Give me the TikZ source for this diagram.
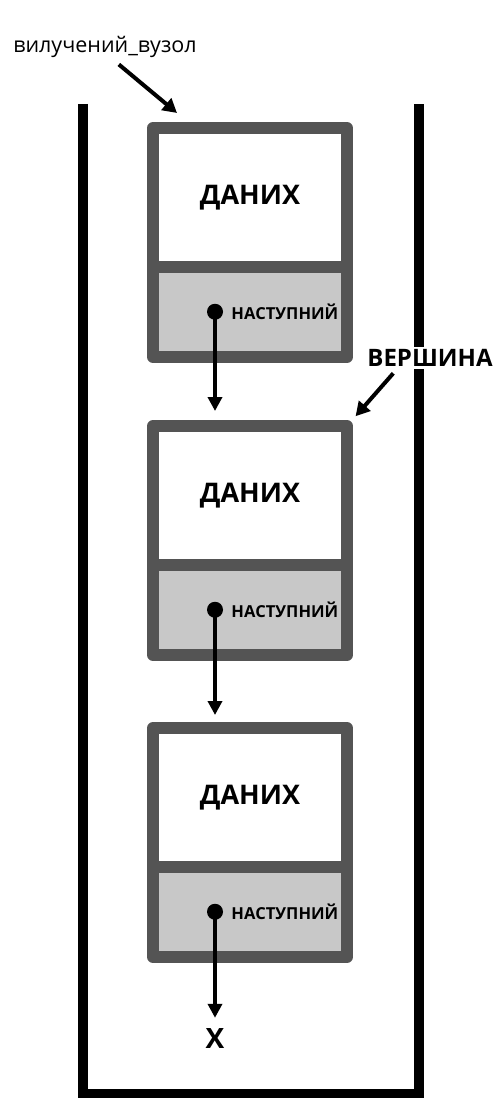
\documentclass[tikz,border=0pt]{standalone}
\usepackage{fontspec}
\setmainfont{Open Sans}
\usetikzlibrary{positioning,arrows.meta}
\definecolor{framegray}{RGB}{84,84,84}
\definecolor{nextgray}{RGB}{200,200,200}

\begin{document}
\begin{tikzpicture}[x=1pt,y=1pt,yscale=-1,xscale=1,
  databox/.style={draw=framegray,fill=white,line width=12pt,line join=round,minimum width=194pt,minimum height=138.5pt,inner sep=0pt,outer sep=0pt,font=\bfseries\fontsize{27}{30}\selectfont},
  nextbox/.style={draw=framegray,fill=nextgray,line width=12pt,line join=round,minimum width=194pt,minimum height=90.5pt,inner sep=0pt,outer sep=0pt,anchor=north},
  ptrdot/.style={circle,fill=black,minimum size=16pt,inner sep=0pt},
  ptrtext/.style={font=\bfseries\fontsize{16.5}{18}\selectfont,inner sep=0pt},
  ptrarrow/.style={line width=3.5pt,-{Triangle[length=14pt,width=14pt]}},
  lblarrow/.style={line width=4pt,-{Triangle[length=14pt,width=15pt]}}]
\path (0,0) rectangle (503,1105);

%Shape: Stack walls
\draw [line width=9.5pt]  (83,104) -- (83,1093.5) -- (419,1093.5) -- (419,104) ;

%Shape: Node 1
\node [databox] (data1) at (250,197.25) {ДАНИХ};
\node [nextbox] (next1) at (data1.south) {};
\node [ptrdot] (dot1) at ([xshift=-35pt]next1.center) {};
\node [ptrtext,right=8pt of dot1] (ptr1) {НАСТУПНИЙ};
%Shape: Node 2
\node [databox] (data2) at (250,495.25) {ДАНИХ};
\node [nextbox] (next2) at (data2.south) {};
\node [ptrdot] (dot2) at ([xshift=-35pt]next2.center) {};
\node [ptrtext,right=8pt of dot2] (ptr2) {НАСТУПНИЙ};
%Shape: Node 3
\node [databox] (data3) at (250,797.25) {ДАНИХ};
\node [nextbox] (next3) at (data3.south) {};
\node [ptrdot] (dot3) at ([xshift=-35pt]next3.center) {};
\node [ptrtext,right=8pt of dot3] (ptr3) {НАСТУПНИЙ};
\node [font=\bfseries\fontsize{28}{30}\selectfont,inner sep=0pt] (nullx) at (215,1038) {X};

%Straight Lines: next pointers
\draw [ptrarrow,shorten >=15pt]   (dot1.center) -- (dot1.center |- data2.north) ;
\draw [ptrarrow,shorten >=13pt]   (dot2.center) -- (dot2.center |- data3.north) ;
\draw [ptrarrow,shorten >=10pt]   (dot3.center) -- (nullx.north) ;

%Labels
\node [font=\fontsize{21.5}{24}\selectfont] (poplbl) at (105,47) {вилучений\_вузол};
\coordinate (poptip) at (177,113);
\draw [lblarrow,shorten <=5pt]   ([xshift=10pt]poplbl.south) -- (poptip) ;
\node [font=\bfseries\fontsize{24}{28}\selectfont,fill=white,inner sep=2pt] (toplbl) at (430,358) {ВЕРШИНА};
\draw [lblarrow,shorten <=6pt,shorten >=13pt]   ([xshift=32pt]toplbl.south west) -- (data2.north east) ;

\end{tikzpicture}
\end{document}
